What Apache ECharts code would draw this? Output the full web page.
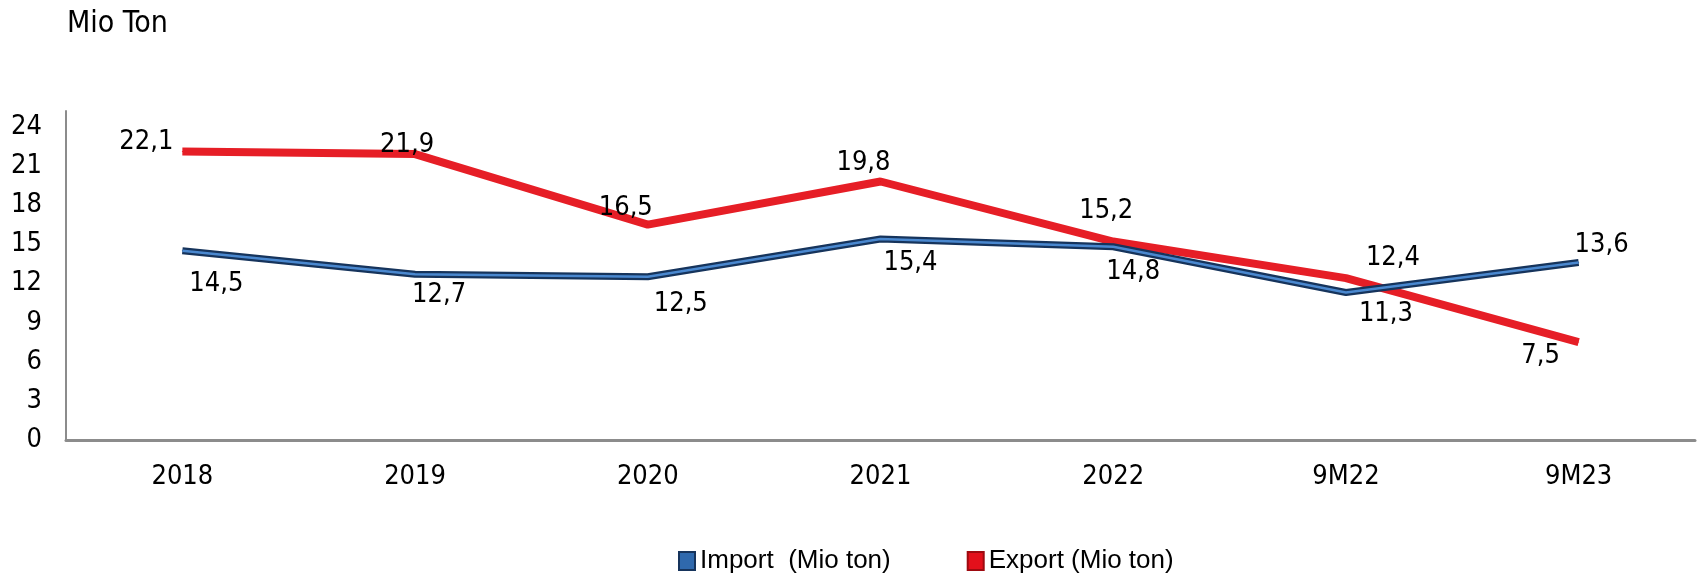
<!DOCTYPE html>
<html>
<head>
<meta charset="utf-8">
<script src="https://cdn.jsdelivr.net/npm/echarts@6/dist/echarts.min.js"></script>
<style>
  html, body { margin: 0; padding: 0; background: #fff; }
  #chart { width: 1701px; height: 575px; }
</style>
</head>
<body>
<div id="chart"></div>
<script>
const categories = ["2018", "2019", "2020", "2021", "2022", "9M22", "9M23"];
const importValues = [14.5, 12.7, 12.5, 15.4, 14.8, 11.3, 13.6];
const exportValues = [22.1, 21.9, 16.5, 19.8, 15.2, 12.4, 7.5];
const yTicks = [0, 3, 6, 9, 12, 15, 18, 21, 24];

// where each value label sits relative to its point (px)
const importLabelOffsets = [[34, 33], [24, 21], [33, 27], [30, 24], [20, 25], [40, 22], [23, -17]];
const exportLabelOffsets = [[-36, -9], [-8, -9], [-22, -17], [-17, -19], [-7, -31], [47, -20], [-38, 14]];

const labelFont = "'DejaVu Sans Condensed', 'DejaVu Sans', sans-serif";

const fmt = (v) => String(v).replace(".", ",");

const withLabels = (values, offsets) =>
  values.map((v, i) => ({
    value: v,
    label: { offset: offsets[i] },
  }));

const valueLabel = {
  show: true,
  position: "inside",
  color: "#000",
  fontFamily: labelFont,
  fontSize: 27,
  textBorderWidth: 0,
  formatter: (p) => fmt(p.value),
};

const chart = echarts.init(document.getElementById("chart"));

chart.setOption({
  animation: false,
  title: {
    text: "Mio Ton",
    left: 62,
    top: 4,
    textStyle: {
      fontFamily: labelFont,
      fontWeight: "normal",
      fontSize: 30,
      color: "#000",
    },
  },
  legend: {
    data: [
      {
        name: "Import  (Mio ton)",
        itemStyle: { color: "#2f69ad", borderColor: "#16345c", borderWidth: 2 },
      },
      {
        name: "Export (Mio ton)",
        itemStyle: { color: "#e3101b", borderColor: "#9e0a10", borderWidth: 2 },
      },
    ],
    left: 673,
    top: 543,
    icon: "rect",
    itemWidth: 16,
    itemHeight: 18,
    itemGap: 76,
    textStyle: {
      fontFamily: "'Liberation Sans', Arial, sans-serif",
      fontSize: 26,
      color: "#000",
    },
  },
  grid: {
    left: 66,
    right: 6,
    top: 111,
    bottom: 135,
  },
  xAxis: {
    type: "category",
    data: categories,
    boundaryGap: true,
    axisLine: { lineStyle: { color: "#8c8c8c", width: 3 } },
    axisTick: { show: false },
    axisLabel: {
      margin: 23,
      color: "#000",
      fontFamily: labelFont,
      fontSize: 27,
    },
  },
  yAxis: {
    type: "value",
    min: 0,
    max: 25.2,
    interval: 3,
    axisLine: { show: true, lineStyle: { color: "#8c8c8c", width: 2 } },
    axisTick: { show: false },
    splitLine: { show: false },
    axisLabel: {
      margin: 24,
      color: "#000",
      fontFamily: labelFont,
      fontSize: 27,
      padding: [8, 0, 0, 0],
      formatter: (v) => (yTicks.includes(v) ? String(v) : ""),
    },
  },
  series: [
    {
      name: "Export (Mio ton)",
      type: "line",
      data: withLabels(exportValues, exportLabelOffsets),
      symbol: "circle",
      symbolSize: 1,
      itemStyle: { color: "#e3101b" },
      lineStyle: { color: "#e61e26", width: 8 },
      label: valueLabel,
      z: 2,
    },
    {
      name: "Import  (Mio ton)",
      type: "line",
      data: withLabels(importValues, importLabelOffsets),
      symbol: "circle",
      symbolSize: 1,
      itemStyle: { color: "#16345c" },
      lineStyle: { color: "#16345c", width: 7 },
      label: valueLabel,
      z: 3,
    },
    {
      name: "import-inner",
      type: "line",
      data: importValues,
      symbol: "none",
      silent: true,
      lineStyle: { color: "#4a88cf", width: 2.5 },
      z: 4,
    },
  ],
});
</script>
</body>
</html>
